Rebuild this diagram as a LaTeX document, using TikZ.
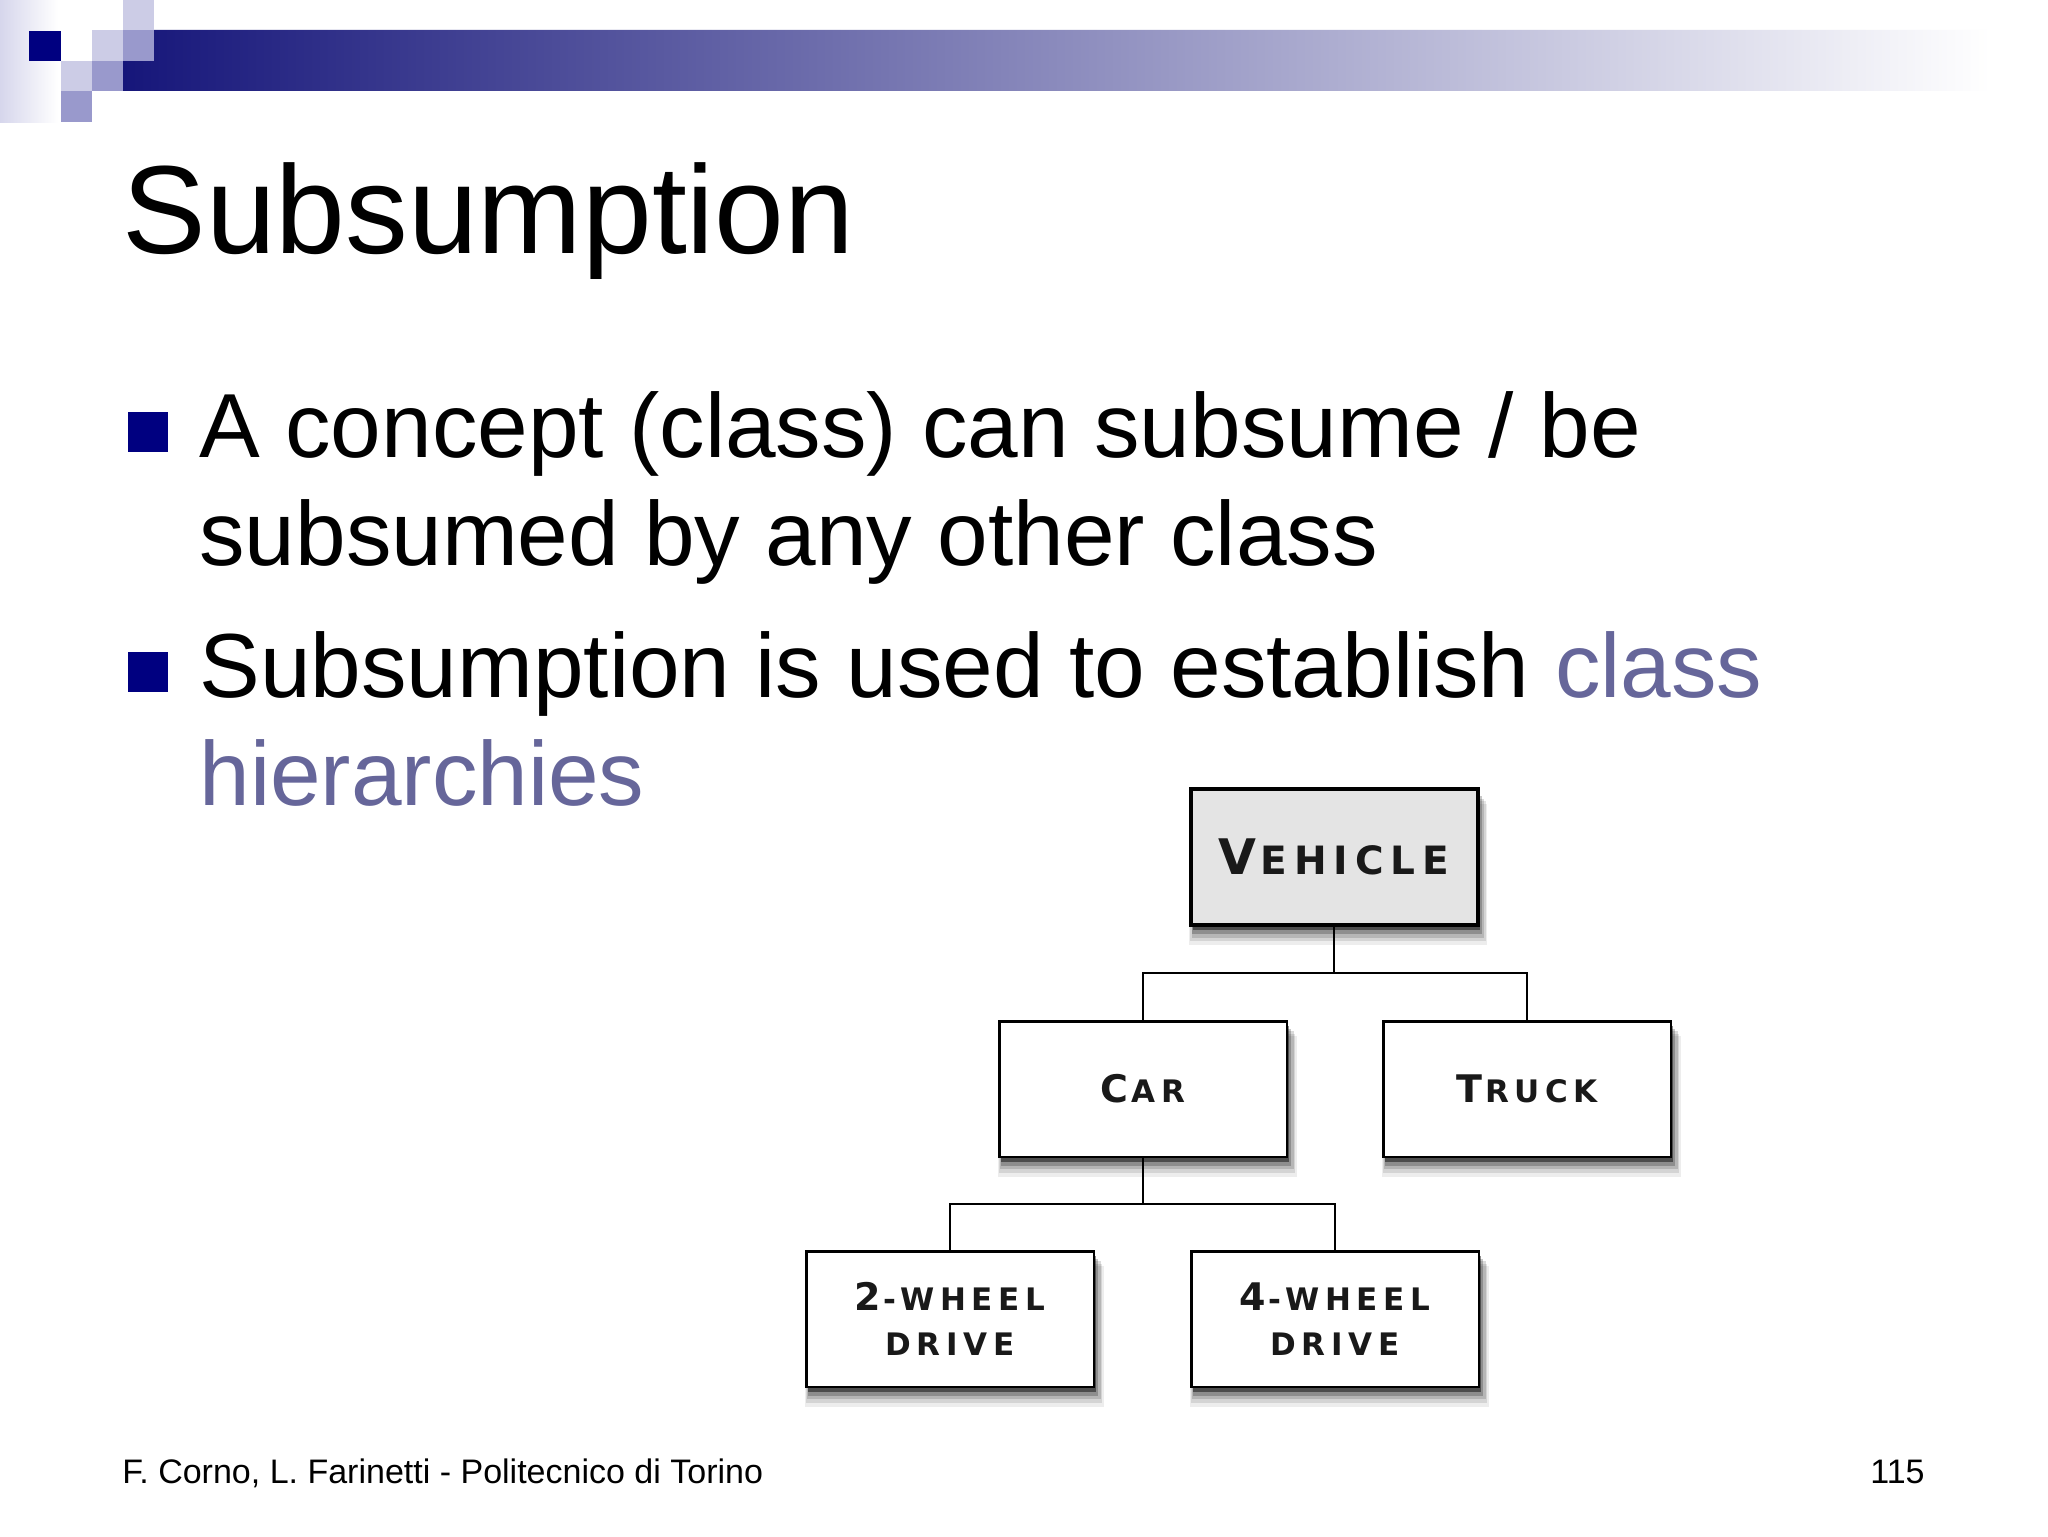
\documentclass[tikz,border=0pt]{standalone}
\usepackage{fontspec}
\setmainfont{Liberation Sans}
\newfontfamily\boxfont[LetterSpace=18]{DejaVu Sans}
\usetikzlibrary{shadows}
\definecolor{navy}{RGB}{0,0,128}
\definecolor{barnavy}{RGB}{22,22,122}
\definecolor{sqlight}{RGB}{204,204,230}
\definecolor{sqmed}{RGB}{153,153,204}
\definecolor{lav}{RGB}{214,214,236}
\definecolor{classc}{RGB}{102,102,154}
\definecolor{vehfill}{RGB}{228,228,228}
\newcommand\BC[1]{{\fontsize{19pt}{22.5pt}\selectfont #1}}
\newcommand\SC[1]{{\fontsize{15.5pt}{22.5pt}\selectfont #1}}
\tikzset{
  boxshadow/.style={
    drop shadow={shadow xshift=2pt, shadow yshift=-8.5pt, fill=black, opacity=0.07, shadow scale=1.04},
    drop shadow={shadow xshift=2pt, shadow yshift=-7pt, fill=black, opacity=0.10, shadow scale=1.03},
    drop shadow={shadow xshift=2pt, shadow yshift=-5.5pt, fill=black, opacity=0.14, shadow scale=1.02},
    drop shadow={shadow xshift=1.5pt, shadow yshift=-4pt, fill=black, opacity=0.22, shadow scale=1.01},
    drop shadow={shadow xshift=1pt, shadow yshift=-2.5pt, fill=black, opacity=0.45, shadow scale=1}
  },
  classbox/.style={draw=black, line width=1.25pt, fill=white, minimum width=143.75pt,
    minimum height=67.75pt, inner sep=0pt, align=center, text=black!90,
    font=\boxfont\bfseries\fontsize{15.5pt}{22.5pt}\selectfont, boxshadow},
  rootbox/.style={classbox, line width=2pt, fill=vehfill, minimum width=143.5pt, minimum height=68pt},
  link/.style={draw=black, line width=1pt},
  body/.style={anchor=base west, inner sep=0pt, font=\fontsize{45.5pt}{54pt}\selectfont},
  bulletsq/.style={fill=navy, minimum size=20pt, inner sep=0pt},
  foot/.style={inner sep=0pt, font=\fontsize{17pt}{20pt}\selectfont}
}
\begin{document}
\begin{tikzpicture}[x=0.5pt, y=-0.5pt]
\useasboundingbox (0,0) rectangle (2048,1536);
\fill[white] (0,0) rectangle (2048,1536);
% header decoration
\shade[left color=lav, right color=white] (0,0) rectangle (58,122);
\shade[left color=barnavy, right color=white] (154,30) -- (1990,30) -- (1990,91) -- (123,91) -- (123,61) -- (154,61) -- cycle;
\fill[navy] (29,31) rectangle (61,61);
\fill[sqlight] (123,0) rectangle (154,30);
\fill[sqlight] (92,30) rectangle (123,61);
\fill[sqmed] (123,30) rectangle (154,61);
\fill[sqlight] (61,61) rectangle (92,91);
\fill[sqmed] (92,61) rectangle (123,91);
\fill[sqmed] (61,91) rectangle (92,122);
% title
\node[anchor=base west, inner sep=0pt, font=\fontsize{62.7pt}{70pt}\selectfont] (title) at (122,253) {Subsumption};
% bullets
\node[bulletsq] (b1) at (148,432) {};
\node[body] (l1) at (199,457) {A concept (class) can subsume / be};
\node[body] (l2) at (199,565) {subsumed by any other class};
\node[bulletsq] (b2) at (148,672) {};
\node[body] (l3) at (199,697) {Subsumption is used to establish \textcolor{classc}{class}};
\node[body] (l4) at (199,805) {\textcolor{classc}{hierarchies}};
% diagram
\node[rootbox] (vehicle) at (1334,857) {{\fontsize{24.5pt}{22.5pt}\selectfont V}\kern2pt{\fontsize{19.5pt}{22.5pt}\selectfont EHICLE}};
\node[classbox] (car) at (1143,1089) {\BC{C}\kern1.5pt\SC{AR}};
\node[classbox] (truck) at (1527,1089) {\BC{T}\kern1.5pt\SC{RUCK}};
\node[classbox] (twowd) at (950,1319) {\BC{2}\kern1pt\SC{-WHEEL}\\\SC{DRIVE}};
\node[classbox] (fourwd) at (1335,1319) {\BC{4}\kern1pt\SC{-WHEEL}\\\SC{DRIVE}};
\coordinate (j1) at (1334,973);
\coordinate (j2) at (1143,1204);
\draw[link] (vehicle.south) -- (j1) -| (car.north);
\draw[link] (j1) -| (truck.north);
\draw[link] (car.south) -- (j2) -| (twowd.north);
\draw[link] (j2) -| (fourwd.north);
% footer
\node[foot, anchor=base west] (ft) at (122,1483) {F. Corno, L. Farinetti - Politecnico di Torino};
\node[foot, anchor=base east] (pg) at (1925,1483) {115};
\end{tikzpicture}
\end{document}
